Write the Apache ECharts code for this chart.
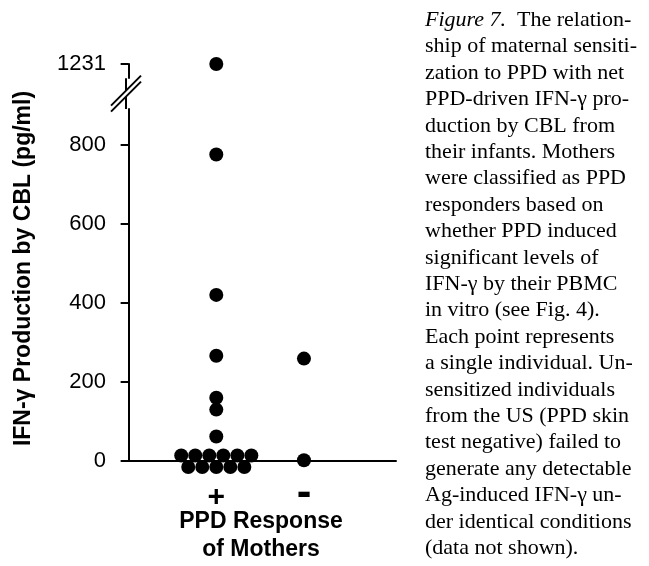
<!DOCTYPE html>
<html>
<head>
<meta charset="utf-8">
<script src="https://cdn.jsdelivr.net/npm/echarts@6.0.0/dist/echarts.min.js"></script>
<style>
html, body { margin: 0; padding: 0; background: #fff; }
#main { width: 649px; height: 566px; }
</style>
</head>
<body>
<div id="main"></div>
<script>
// groups on the x axis (position 1 and 2)
var groups = ['+', '-'];
var yTicks = [0, 200, 400, 600, 800, 1231];

// IFN-gamma (pg/ml), one value per individual
var ppdPositive = [1231, 775, 420, 266, 160, 130, 62, 14, 14, 14, 14, 14, 14, -15, -15, -15, -15, -15];
var ppdPositiveSpread = [0, 0, 0, 0, 0, 0, 0, -0.4, -0.24, -0.08, 0.08, 0.24, 0.4, -0.32, -0.16, 0, 0.16, 0.32];
var ppdNegative = [259, 2];
var ppdNegativeSpread = [0, 0];

var yBreak = { start: 890, end: 1195, gap: 78 };

var caption = [
	'{i|Figure 7.}  The relation-',
	'ship of maternal sensiti-',
	'zation to PPD with net',
	'PPD-driven IFN-γ pro-',
	'duction by CBL from',
	'their infants. Mothers',
	'were classified as PPD',
	'responders based on',
	'whether PPD induced',
	'significant levels of',
	'IFN-γ by their PBMC',
	'in vitro (see Fig. 4).',
	'Each point represents',
	'a single individual. Un-',
	'sensitized individuals',
	'from the US (PPD skin',
	'test negative) failed to',
	'generate any detectable',
	'Ag-induced IFN-γ un-',
	'der identical conditions',
	'(data not shown).'
];

function toPoints(groupIndex, values, spread) {
	var out = [];
	for (var i = 0; i < values.length; i++) {
		out.push([groupIndex + 1 + spread[i], values[i]]);
	}
	return out;
}

var chart = echarts.init(document.getElementById('main'), null, { renderer: 'canvas' });

var option = {
	backgroundColor: '#fff',
	animation: false,
	textStyle: { fontFamily: 'Liberation Sans', color: '#000' },
	grid: { left: 126, top: 64, right: 253, bottom: 105, outerBoundsMode: 'none', containLabel: false },
	xAxis: {
		type: 'value',
		min: -0.03,
		max: 3.05,
		splitLine: { show: false },
		axisLine: { onZero: false, lineStyle: { color: '#000', width: 2 } },
		axisTick: { show: false },
		axisLabel: {
			customValues: [1, 2],
			margin: 22,
			formatter: function(v) {
				var g = groups[Math.round(v) - 1];
				return g == '+' ? '{p|' + g + '}' : '{m|' + g + '}';
			},
			rich: {
				p: { fontSize: 30, fontWeight: 'bold', color: '#000', fontFamily: 'Liberation Sans' },
				m: { fontSize: 44, lineHeight: 22, fontWeight: 'bold', color: '#000', fontFamily: 'Liberation Sans' }
			}
		},
		name: 'PPD Response\nof Mothers',
		nameLocation: 'middle',
		nameGap: 47,
		nameMoveOverlap: false,
		nameTextStyle: { fontSize: 23, fontWeight: 'bold', color: '#000', lineHeight: 28, fontFamily: 'Liberation Sans' }
	},
	yAxis: {
		type: 'value',
		min: 0,
		max: 1231,
		breaks: [yBreak],
		breakArea: { show: false },
		splitLine: { show: false },
		axisLine: { lineStyle: { color: '#000', width: 2 } },
		axisTick: { customValues: yTicks, length: 8, lineStyle: { color: '#000', width: 2 } },
		axisLabel: {
			customValues: yTicks,
			margin: 20,
			fontSize: 22,
			color: '#000',
			formatter: function(v) { return String(v); }
		},
		name: 'IFN-γ Production by CBL (pg/ml)',
		nameLocation: 'middle',
		nameGap: 91,
		nameMoveOverlap: false,
		nameTextStyle: { fontSize: 23, fontWeight: 'bold', color: '#000', padding: [0, 12, 0, 0], fontFamily: 'Liberation Sans' }
	},
	series: [{
		type: 'scatter',
		name: groups[0],
		clip: false,
		symbolSize: 14,
		itemStyle: { color: '#000', opacity: 1 },
		data: toPoints(0, ppdPositive, ppdPositiveSpread)
	}, {
		type: 'scatter',
		name: groups[1],
		clip: false,
		symbolSize: 14,
		itemStyle: { color: '#000', opacity: 1 },
		data: toPoints(1, ppdNegative, ppdNegativeSpread)
	}]
};

chart.setOption(option);

// double-slash break mark on the y axis, placed from the axis scale
var lo = chart.convertToPixel({ yAxisIndex: 0 }, yBreak.start);
var hi = chart.convertToPixel({ yAxisIndex: 0 }, yBreak.end);
var cx = chart.convertToPixel({ xAxisIndex: 0 }, -0.03);
var cy = (lo + hi) / 2;
var d = 15, s = 3;

chart.setOption({
	graphic: [{
		type: 'line',
		shape: { x1: cx, y1: hi, x2: cx, y2: lo },
		style: { stroke: '#000', lineWidth: 2 },
		z: 99
	}, {
		type: 'polygon',
		shape: { points: [[cx - d, cy + d - s], [cx + d, cy - d - s], [cx + d, cy - d + s], [cx - d, cy + d + s]] },
		style: { fill: '#fff' },
		z: 100
	}, {
		type: 'line',
		shape: { x1: cx - d, y1: cy + d - s, x2: cx + d, y2: cy - d - s },
		style: { stroke: '#000', lineWidth: 2 },
		z: 101
	}, {
		type: 'line',
		shape: { x1: cx - d, y1: cy + d + s, x2: cx + d, y2: cy - d + s },
		style: { stroke: '#000', lineWidth: 2 },
		z: 101
	}, {
		type: 'text',
		left: 425,
		top: 7,
		style: {
			text: caption.join('\n'),
			font: '22px "Liberation Serif"',
			fill: '#000',
			lineHeight: 26.4,
			rich: {
				i: { fontStyle: 'italic', fontFamily: 'Liberation Serif', fontSize: 22, lineHeight: 26.4 }
			}
		}
	}]
});
</script>
</body>
</html>
